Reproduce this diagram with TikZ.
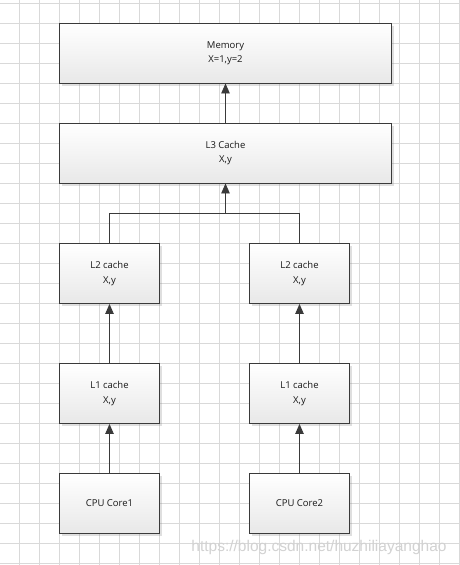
\documentclass[tikz,border=0pt]{standalone}
\usepackage{fontspec}
\setmainfont{Open Sans}
\newfontfamily\wmfont{Liberation Sans}
\usetikzlibrary{arrows.meta,shadows}
\definecolor{gridc}{HTML}{D9D9D9}
\definecolor{edgec}{HTML}{3A3A3A}
\definecolor{bottomc}{HTML}{E8E8E8}
\tikzset{
  box/.style={rectangle, draw=edgec, line width=0.9pt, top color=white, bottom color=bottomc,
    inner sep=0pt, align=center, font=\fontsize{9.5}{14.5}\selectfont, text=black!90,
    drop shadow={shadow xshift=2.5pt, shadow yshift=-2.5pt, fill=gray, opacity=0.25}},
  conn/.style={draw=edgec, line width=0.9pt},
  arr/.style={conn, -{Triangle[length=10pt,width=8.5pt]}},
}
\begin{document}
\begin{tikzpicture}[x=1pt,y=-1pt]
\useasboundingbox (0,0) rectangle (460,565);
\fill[white] (0,0) rectangle (460,565);
% grid
\foreach \i in {0,...,22} {
  \draw[gridc, line width=0.8pt] (19.5+20*\i,0) -- (19.5+20*\i,565);
}
\foreach \j in {0,...,28} {
  \draw[gridc, line width=0.8pt] (0,3.5+20*\j) -- (460,3.5+20*\j);
}
% nodes
\node[box, minimum width=332pt, minimum height=59.5pt] (mem) at (225.5,53.25) {Memory\\X=1,y=2};
\node[box, minimum width=332pt, minimum height=59.5pt] (l3) at (225.5,153.25) {L3 Cache\\X,y};
\node[box, minimum width=100pt, minimum height=60pt] (l2a) at (109.5,273.5) {L2 cache\\X,y};
\node[box, minimum width=100pt, minimum height=60pt] (l2b) at (299.5,273.5) {L2 cache\\X,y};
\node[box, minimum width=100pt, minimum height=60pt] (l1a) at (109.5,393.5) {L1 cache\\X,y};
\node[box, minimum width=100pt, minimum height=60pt] (l1b) at (299.5,393.5) {L1 cache\\X,y};
\node[box, minimum width=100pt, minimum height=60pt] (cpua) at (109.5,503.5) {CPU Core1};
\node[box, minimum width=100pt, minimum height=60pt] (cpub) at (299.5,503.5) {CPU Core2};
\coordinate (bus) at (225.5,213.5);
% connectors
\draw[arr] (l3.north) -- (mem.south);
\draw[arr] (bus) -- (l3.south);
\draw[conn] (l2a.north) |- (bus) -| (l2b.north);
\draw[arr] (l1a.north) -- (l2a.south);
\draw[arr] (l1b.north) -- (l2b.south);
\draw[arr] (cpua.north) -- (l1a.south);
\draw[arr] (cpub.north) -- (l1b.south);
% watermark
\node[font=\wmfont\fontsize{15.5}{16}\selectfont, text=gray!35, inner sep=0pt] (wm) at (319,547) {https://blog.csdn.net/huzhiliayanghao};
\end{tikzpicture}
\end{document}
